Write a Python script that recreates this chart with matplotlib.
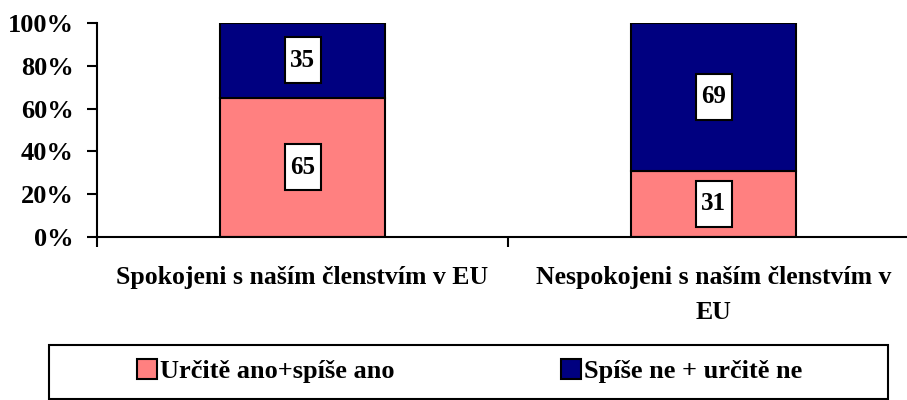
import matplotlib
matplotlib.use("Agg")
import matplotlib.pyplot as plt
from matplotlib.patches import Rectangle
from matplotlib.path import Path
import numpy as np

categories = ["Spokojeni s naším členstvím v EU", "Nespokojeni s naším členstvím v\nEU"]
series_names = ["Určitě ano+spíše ano", "Spíše ne + určitě ne"]
yes_values = [65, 31]
no_values = [35, 69]
y_ticks = [0, 20, 40, 60, 80, 100]
y_tick_labels = ["0%", "20%", "40%", "60%", "80%", "100%"]

PINK = "#FF8080"
NAVY = "#000080"

plt.rcParams['font.family'] = ['Liberation Serif', 'DejaVu Serif']
plt.rcParams['font.weight'] = 'bold'

W, H = 907, 400
fig = plt.figure(figsize=(W / 100, H / 100), dpi=100)
ax = fig.add_axes([97 / W, 163 / H, 822 / W, 214 / H])

x = np.arange(len(categories))
bw = 0.4
b1 = ax.bar(x, yes_values, bw, color=PINK, edgecolor="black", linewidth=1.5, label=series_names[0])
b2 = ax.bar(x, no_values, bw, bottom=yes_values, color=NAVY, edgecolor="black", linewidth=1.5, label=series_names[1])

ax.set_xlim(-0.5, len(categories) - 0.5)
ax.set_ylim(0, 100)

for s in ["top", "right"]:
    ax.spines[s].set_visible(False)
for s in ["left", "bottom"]:
    ax.spines[s].set_linewidth(1.5)
ax.spines["bottom"].set_clip_on(False)


def label_box(x0, y0, width, height, mutation_size):
    bw_px, bh_px = 36, 46
    cx = x0 + width / 2
    cy = y0 + height / 2
    verts = [(cx - bw_px / 2, cy - bh_px / 2), (cx + bw_px / 2, cy - bh_px / 2),
             (cx + bw_px / 2, cy + bh_px / 2), (cx - bw_px / 2, cy + bh_px / 2),
             (cx - bw_px / 2, cy - bh_px / 2)]
    codes = [Path.MOVETO, Path.LINETO, Path.LINETO, Path.LINETO, Path.CLOSEPOLY]
    return Path(verts, codes)


for i in range(len(categories)):
    for bottom, val in [(0, yes_values[i]), (yes_values[i], no_values[i])]:
        ax.text(x[i], bottom + val / 2, f"{val}", ha="center", va="center",
                fontsize=18, fontweight="bold",
                bbox=dict(boxstyle=label_box, facecolor="white", edgecolor="black", linewidth=1.5))

ax.set_yticks(y_ticks)
ax.set_yticklabels(y_tick_labels, fontsize=19, fontweight="bold")
ax.tick_params(axis="y", direction="out", length=7, width=1.5, pad=10)

ax.set_xticks(x)
ax.set_xticklabels(categories, fontsize=18.5, fontweight="bold", linespacing=1.65)
ax.set_xticks(np.arange(-0.5, len(categories), 1.0), minor=True)
ax.tick_params(axis="x", which="major", length=0, pad=21)
ax.tick_params(axis="x", which="minor", direction="out", length=7, width=1.5)

# legend frame
fig.patches.append(Rectangle((49 / W, 1 / H), 839 / W, 54 / H, transform=fig.transFigure,
                             facecolor="white", edgecolor="black", linewidth=1.5, zorder=0))
fig.legend(handles=[b1, b2], labels=series_names, loc="center", bbox_to_anchor=(469.5 / W, 29 / H),
           ncol=2, frameon=False, prop={'weight': 'bold', 'size': 19},
           handlelength=0.76, handleheight=0.76, handletextpad=0.12, columnspacing=6.3)

fig.savefig("out.png", dpi=100)
